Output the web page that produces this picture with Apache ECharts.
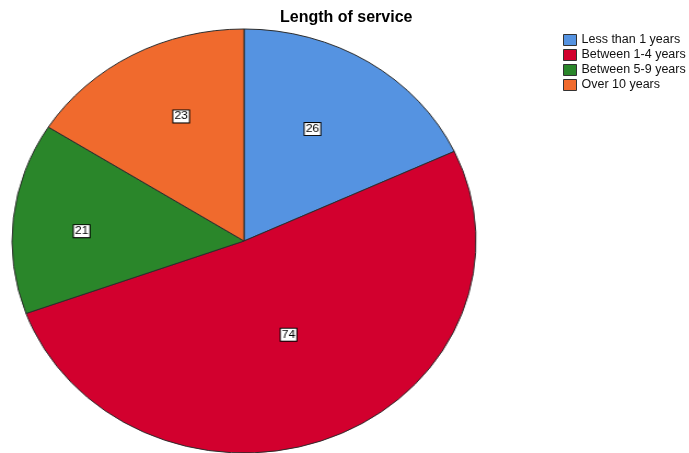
<!DOCTYPE html>
<html>
<head>
<meta charset="utf-8">
<script src="https://cdn.jsdelivr.net/npm/echarts@6/dist/echarts.min.js"></script>
<style>
  html, body { margin: 0; padding: 0; background: #fff; }
  #wrap { position: relative; width: 689px; height: 453px; overflow: hidden; }
  #pie { position: absolute; left: 0; top: 0; width: 689px; height: 453px;
         transform-origin: 244px 241px; transform: scaleX(1.0943); }
  #main { position: absolute; left: 0; top: 0; width: 689px; height: 453px; }
</style>
</head>
<body>
<div id="wrap">
  <div id="pie"></div>
  <div id="main"></div>
</div>
<script>
const titleText = 'Length of service';
const categories = ['Less than 1 years', 'Between 1-4 years', 'Between 5-9 years', 'Over 10 years'];
const counts = [26, 74, 21, 23];
const colors = ['#5593E1', '#D2002E', '#2A862A', '#F06A2D'];
// small label nudges (SPSS places inside labels slightly differently)
const labelNudge = [[4, -20], [-1, -7], [-40, 2], [-5, -29]];

const font = "'Liberation Sans', Arial, sans-serif";
const pieData = categories.map((c, i) => ({ name: c, value: counts[i], itemStyle: { color: colors[i] } }));

const pie = echarts.init(document.getElementById('pie'), null, { renderer: 'canvas' });
pie.setOption({
  animation: false,
  series: [{
    type: 'pie',
    center: [244, 241],
    radius: [0, 212],
    startAngle: 90,
    clockwise: true,
    silent: true,
    itemStyle: { borderColor: '#2b2b2b', borderWidth: 1 },
    label: {
      show: true,
      position: 'inside',
      formatter: '{c}',
      color: '#000',
      fontFamily: font,
      fontSize: 11,
      backgroundColor: '#fff',
      borderColor: '#000',
      borderWidth: 1,
      padding: [1, 1, 0, 1]
    },
    labelLayout: function (p) {
      const n = labelNudge[p.dataIndex] || [0, 0];
      return { dx: n[0], dy: n[1] };
    },
    labelLine: { show: false },
    data: pieData
  }]
});

const main = echarts.init(document.getElementById('main'), null, { renderer: 'canvas' });
main.setOption({
  animation: false,
  backgroundColor: 'transparent',
  title: {
    text: titleText,
    left: 280,
    top: 10,
    padding: 0,
    textStyle: { fontFamily: font, fontSize: 16, fontWeight: 'bold', color: '#000' }
  },
  legend: {
    orient: 'vertical',
    left: 563,
    top: 33,
    padding: 0,
    itemWidth: 13,
    itemHeight: 11,
    itemGap: 1,
    icon: 'rect',
    selectedMode: false,
    itemStyle: { borderColor: '#333', borderWidth: 1 },
    textStyle: { fontFamily: font, fontSize: 12.5, lineHeight: 14, color: '#111' },
    data: categories
  },
  series: [{
    type: 'pie',
    center: [244, 241],
    radius: [0, 0],
    silent: true,
    label: { show: false },
    labelLine: { show: false },
    data: pieData
  }]
});
</script>
</body>
</html>
